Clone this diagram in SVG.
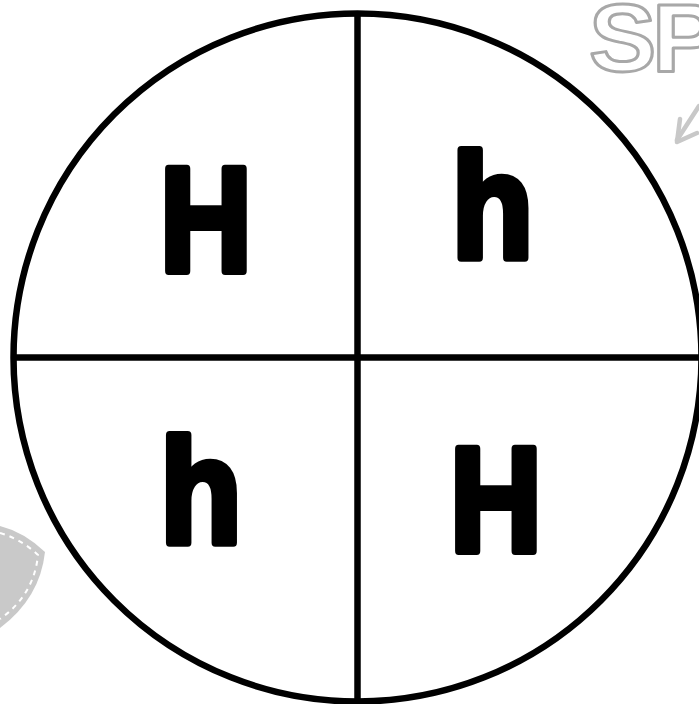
<svg xmlns="http://www.w3.org/2000/svg" width="699" height="704" viewBox="0 0 699 704">
<style>
.line{stroke:#000;stroke-width:6.5;fill:none}
.big{font-family:"Liberation Sans",Arial,sans-serif;font-weight:bold;font-size:148px;fill:#000;stroke:#000;stroke-width:8;stroke-linejoin:round;text-anchor:middle}
.sp{font-family:"Liberation Sans",Arial,sans-serif;font-weight:bold;font-size:96px;fill:#fff;stroke:#a8a8a8;stroke-width:3;stroke-linejoin:round}
</style>
<rect width="699" height="704" fill="#fff"/>
<g id="decor">
<text class="sp" transform="translate(589,71) scale(1.05,1)" letter-spacing="-4">SP</text>
<g stroke="#c8c8c8" stroke-width="4.5" fill="none" stroke-linecap="round" stroke-linejoin="round">
<line x1="699" y1="106" x2="677" y2="140"/>
<polyline points="680,119 677,142 697,133"/>
</g>
<path d="M0,526 Q24,532 45,552 Q40,598 0,628 Z" fill="#c9c9c9"/>
<path d="M0,533 Q21,539 38,555 Q34,595 0,619" fill="none" stroke="#fff" stroke-width="2" stroke-dasharray="5,5"/>
</g>
<g id="connectors">
<circle class="line" cx="357.5" cy="357.5" r="344"/>
<line class="line" x1="357.5" y1="13" x2="357.5" y2="704"/>
<line class="line" x1="13" y1="357.5" x2="699" y2="357.5"/>
</g>
<g id="node-tl"><text class="big" transform="translate(206,271) scale(0.86,1)">H</text></g>
<g id="node-tr"><text class="big" transform="translate(492.5,258) scale(0.9,1)">h</text></g>
<g id="node-bl"><text class="big" transform="translate(201,543) scale(0.9,1)">h</text></g>
<g id="node-br"><text class="big" transform="translate(496,551) scale(0.86,1)">H</text></g>
</svg>
